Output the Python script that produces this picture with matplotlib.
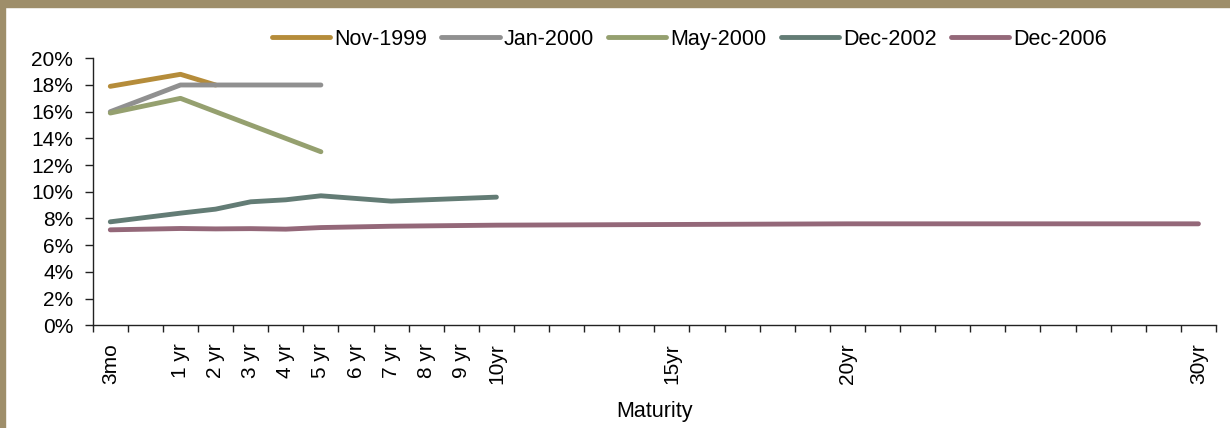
import numpy as np
import matplotlib.pyplot as plt
from matplotlib.patches import Rectangle
from matplotlib.ticker import FuncFormatter

plt.rcParams['font.family'] = ['Liberation Sans', 'DejaVu Sans']

# category axis: one slot per maturity, only some get a printed label
tenors = ['3mo', '6mo'] + ['%d yr' % i for i in range(1, 10)] + ['%dyr' % i for i in range(10, 31)]
shown = {'3mo', '1 yr', '2 yr', '3 yr', '4 yr', '5 yr', '6 yr', '7 yr', '8 yr', '9 yr',
         '10yr', '15yr', '20yr', '30yr'}
tick_labels = [t if t in shown else '' for t in tenors]

nov_1999_tenors = ['3mo', '1 yr', '2 yr']
nov_1999 = [17.9, 18.8, 18.0]

jan_2000_tenors = ['3mo', '1 yr', '2 yr', '3 yr', '4 yr', '5 yr']
jan_2000 = [16.0, 18.0, 18.0, 18.0, 18.0, 18.0]

may_2000_tenors = ['3mo', '1 yr', '2 yr', '3 yr', '4 yr', '5 yr']
may_2000 = [15.9, 17.0, 16.0, 15.0, 14.0, 13.0]

dec_2002_tenors = ['3mo', '1 yr', '2 yr', '3 yr', '4 yr', '5 yr', '7 yr', '10yr']
dec_2002 = [7.75, 8.4, 8.7, 9.25, 9.4, 9.7, 9.3, 9.6]

dec_2006_tenors = ['3mo', '1 yr', '2 yr', '3 yr', '4 yr', '5 yr', '7 yr', '10yr', '15yr', '20yr', '30yr']
dec_2006 = [7.15, 7.25, 7.22, 7.24, 7.2, 7.32, 7.42, 7.5, 7.55, 7.6, 7.6]

series = [
    ('Nov-1999', nov_1999_tenors, nov_1999, '#B58C3A'),
    ('Jan-2000', jan_2000_tenors, jan_2000, '#909090'),
    ('May-2000', may_2000_tenors, may_2000, '#95A06F'),
    ('Dec-2002', dec_2002_tenors, dec_2002, '#637C75'),
    ('Dec-2006', dec_2006_tenors, dec_2006, '#946879'),
]

fig = plt.figure(figsize=(12.3, 4.28), dpi=100)
ax = fig.add_axes([0.0754, 0.240, 0.9132, 0.6238])

for name, ts, vals, color in series:
    xs = [tenors.index(t) + 0.5 for t in ts]
    ax.plot(xs, vals, color=color, lw=3.5, solid_capstyle='round',
            solid_joinstyle='round', label=name)

ax.set_xlim(0, len(tenors))
ax.set_ylim(0, 20)
ax.set_yticks(np.arange(0, 21, 2))
ax.yaxis.set_major_formatter(FuncFormatter(lambda v, p: '%d%%' % v))

ax.set_xticks(np.arange(0, len(tenors) + 1))
ax.set_xticklabels([])
ax.set_xticks(np.arange(len(tenors)) + 0.5, minor=True)
ax.set_xticklabels(tick_labels, minor=True, rotation=90, va='top', ha='center')
ax.tick_params(axis='x', which='minor', length=0, pad=13, labelsize=15)
ax.tick_params(axis='x', which='major', length=5, width=1, color='#222222')
ax.tick_params(axis='y', length=6, width=1, labelsize=15, pad=8, color='#222222')

for s in ['top', 'right']:
    ax.spines[s].set_visible(False)
for s in ['left', 'bottom']:
    ax.spines[s].set_color('#222222')
    ax.spines[s].set_linewidth(1)

ax.set_xlabel('Maturity', fontsize=15.5, labelpad=12)

ax.legend(loc='center', bbox_to_anchor=(0.5605, 0.908), bbox_transform=fig.transFigure,
          ncol=5, frameon=False, fontsize=15.5, handlelength=2.7, handletextpad=0.2,
          columnspacing=0.65)

# khaki frame on top and left
khaki = '#9E8E6A'
fig.patches.append(Rectangle((0, 1 - 7 / 428), 1, 7 / 428, transform=fig.transFigure,
                             color=khaki, zorder=10))
fig.patches.append(Rectangle((0, 0), 5 / 1230, 1, transform=fig.transFigure,
                             color=khaki, zorder=10))

fig.savefig('out.png', dpi=100)
